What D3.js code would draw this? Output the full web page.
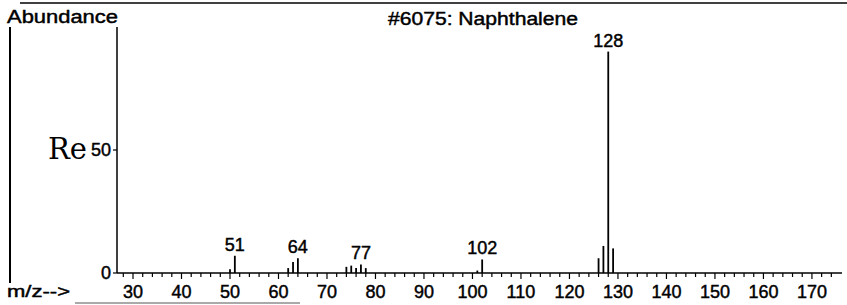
<!DOCTYPE html>
<html>
<head>
<meta charset="utf-8">
<script src="https://cdn.jsdelivr.net/npm/d3@7"></script>
<style>
  body { margin: 0; background: #fff; }
  text { font-family: "Liberation Sans", Arial, sans-serif; fill: #000; stroke: #000; stroke-width: 0.45px; }
</style>
</head>
<body>
<div id="chart"></div>
<script>
var w = 847
  , h = 305
  ;

// m/z values and abundances
var mz        = [50, 51, 62, 63, 64, 74, 75, 76, 77, 78, 101, 102, 126, 127, 128, 129];
var abundance = [1.5, 7, 2, 4.5, 6, 2.5, 3, 2, 3.5, 2, 1, 5.5, 6, 11, 90, 10];
var labelled  = [51, 64, 77, 102, 128];
var xTicks    = [30, 40, 50, 60, 70, 80, 90, 100, 110, 120, 130, 140, 150, 160, 170];
var yTicks    = [0, 50];

var svg = d3.select('#chart').append('svg')
            .attr('width', w).attr('height', h)
  , x = d3.scaleLinear().domain([26.7, 176.2]).range([117, 842])
  , y = d3.scaleLinear().domain([0, 100]).range([273, 27])
  ;

// frame bits from the scanned printout
svg.append('line').attr('x1', 20).attr('x2', 847).attr('y1', 3).attr('y2', 3)
   .attr('stroke', '#000').attr('stroke-width', 1.5);
svg.append('line').attr('x1', 10).attr('x2', 10).attr('y1', 27).attr('y2', 283)
   .attr('stroke', '#000').attr('stroke-width', 2);
svg.append('line').attr('x1', 75).attr('x2', 300).attr('y1', 303).attr('y2', 303)
   .attr('stroke', '#555').attr('stroke-width', 1);

// x axis: minor ticks every 2, major every 10
var minor = d3.range(28, 176, 2);
svg.append('line').attr('x1', x.range()[0]).attr('x2', x.range()[1])
   .attr('y1', y(0)).attr('y2', y(0)).attr('stroke', '#000').attr('stroke-width', 1.5);
svg.selectAll('.mtick').data(minor).enter().append('line')
   .attr('x1', function (d) { return x(d); }).attr('x2', function (d) { return x(d); })
   .attr('y1', y(0)).attr('y2', function (d) { return d % 10 === 0 ? y(0) + 6 : y(0) + 4; })
   .attr('stroke', '#000').attr('stroke-width', 1.2);
svg.selectAll('.xlab').data(xTicks).enter().append('text')
   .attr('x', function (d) { return x(d); }).attr('y', 298)
   .attr('text-anchor', 'middle').style('font-size', '18px')
   .text(function (d) { return d; });

// y axis
svg.append('line').attr('x1', x.range()[0]).attr('x2', x.range()[0])
   .attr('y1', y(100)).attr('y2', y(0)).attr('stroke', '#000').attr('stroke-width', 1.5);
svg.selectAll('.ytick').data(yTicks).enter().append('line')
   .attr('x1', x.range()[0] - 4).attr('x2', x.range()[0])
   .attr('y1', function (d) { return y(d); }).attr('y2', function (d) { return y(d); })
   .attr('stroke', '#000').attr('stroke-width', 1.2);
svg.append('text').attr('x', 48).attr('y', y(50) + 9)
   .style('font-family', '"DejaVu Serif", "Liberation Serif", serif')
   .style('stroke-width', '0px')
   .style('font-size', '29px').text('Re');
svg.selectAll('.ylab').data(yTicks).enter().append('text')
   .attr('x', 111).attr('y', function (d) { return y(d) + 1; })
   .attr('text-anchor', 'end').attr('dominant-baseline', 'middle')
   .style('font-size', '18px')
   .text(function (d) { return d; });

// peaks
svg.selectAll('.peak').data(mz).enter().append('line')
   .attr('x1', function (d) { return x(d); }).attr('x2', function (d) { return x(d); })
   .attr('y1', y(0)).attr('y2', function (d, i) { return y(abundance[i]); })
   .attr('stroke', '#000').attr('stroke-width', 1.8);

svg.selectAll('.plab').data(labelled).enter().append('text')
   .attr('x', function (d) { return x(d); })
   .attr('y', function (d) { return y(abundance[mz.indexOf(d)]) - 5; })
   .attr('text-anchor', 'middle').style('font-size', '18px')
   .text(function (d) { return d; });

// header
svg.append('text').attr('x', 7).attr('y', 23)
   .attr('textLength', 111).attr('lengthAdjust', 'spacingAndGlyphs')
   .style('font-size', '18px').text('Abundance');
svg.append('text').attr('x', 388).attr('y', 25)
   .attr('textLength', 190).attr('lengthAdjust', 'spacingAndGlyphs')
   .style('font-size', '18px').text('#6075: Naphthalene');
svg.append('text').attr('x', 7).attr('y', 297)
   .attr('textLength', 63).attr('lengthAdjust', 'spacingAndGlyphs')
   .style('font-size', '17px').text('m/z-->');
</script>
</body>
</html>
